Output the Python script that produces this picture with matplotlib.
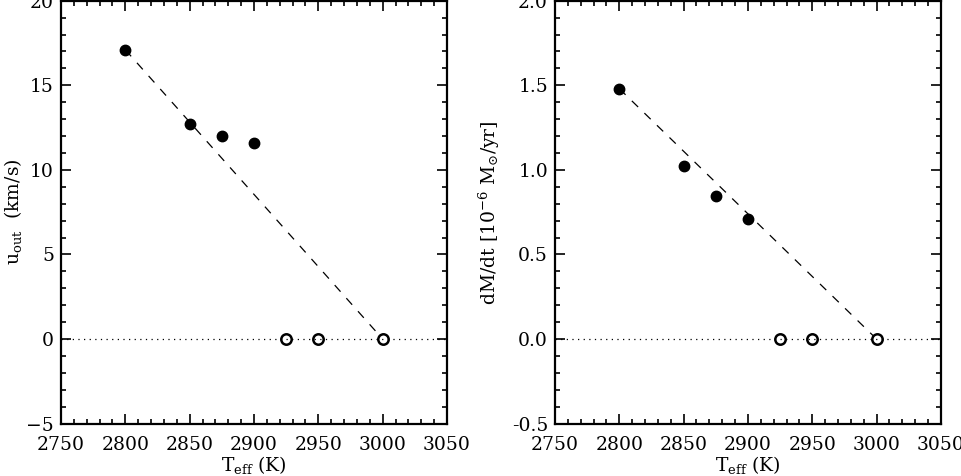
import matplotlib
matplotlib.use('Agg')
import matplotlib.pyplot as plt
from matplotlib.ticker import MultipleLocator, FormatStrFormatter

plt.rcParams['font.family'] = 'DejaVu Serif'
plt.rcParams['mathtext.fontset'] = 'dejavuserif'

# models with an outflow (filled) and without (open)
teff_wind = [2800, 2850, 2875, 2900]
teff_nowind = [2925, 2950, 3000]

u_wind = [17.1, 12.7, 12.0, 11.6]
u_nowind = [0, 0, 0]

mdot_wind = [1.48, 1.025, 0.845, 0.71]
mdot_nowind = [0, 0, 0]

# dashed trend lines
trend_x = [2800, 3000]
trend_u = [17.1, 0]
trend_mdot = [1.48, 0]

fig = plt.figure(figsize=(9.62, 4.76), dpi=100)
ax1 = fig.add_axes([0.0634, 0.110, 0.4013, 0.8885])
ax2 = fig.add_axes([0.5769, 0.110, 0.4012, 0.8885])


def style(ax, ymaj, ymin):
    ax.set_xlim(2750, 3050)
    ax.xaxis.set_major_locator(MultipleLocator(50))
    ax.xaxis.set_minor_locator(MultipleLocator(10))
    ax.yaxis.set_major_locator(MultipleLocator(ymaj))
    ax.yaxis.set_minor_locator(MultipleLocator(ymin))
    ax.tick_params(which='both', direction='in', top=True, right=True,
                   width=1.2, labelsize=13.5)
    ax.tick_params(axis='x', which='both', pad=9)
    ax.tick_params(axis='y', which='both', pad=5)
    ax.tick_params(which='major', length=7)
    ax.tick_params(which='minor', length=3.5)
    for s in ax.spines.values():
        s.set_linewidth(1.6)
    ax.axhline(0, color='k', ls=(0, (1, 3.5)), lw=0.9)
    ax.set_xlabel(r'T$_{\rm eff}$ (K)', fontsize=13.5, labelpad=0)


# u_out panel
ax1.plot(trend_x, trend_u, color='k', ls=(0, (7, 7)), lw=0.9)
ax1.plot(teff_wind, u_wind, 'o', color='k', ms=7.5)
ax1.plot(teff_nowind, u_nowind, 'o', mfc='white', mec='k', mew=1.8, ms=7.5)
ax1.set_ylim(-5, 20)
style(ax1, 5, 1)
ax1.set_ylabel(r'u$_{\rm out}$  (km/s)', fontsize=13.5, labelpad=1.5)

# mass loss panel
ax2.plot(trend_x, trend_mdot, color='k', ls=(0, (7, 7)), lw=0.9)
ax2.plot(teff_wind, mdot_wind, 'o', color='k', ms=7.5)
ax2.plot(teff_nowind, mdot_nowind, 'o', mfc='white', mec='k', mew=1.8, ms=7.5)
ax2.set_ylim(-0.5, 2.0)
style(ax2, 0.5, 0.1)
ax2.yaxis.set_major_formatter(FormatStrFormatter('%.1f'))
ax2.set_ylabel(r'dM/dt [10$^{-6}$ M$_{\odot}$/yr]', fontsize=13.5, labelpad=7)

fig.savefig('out.png', dpi=100)
